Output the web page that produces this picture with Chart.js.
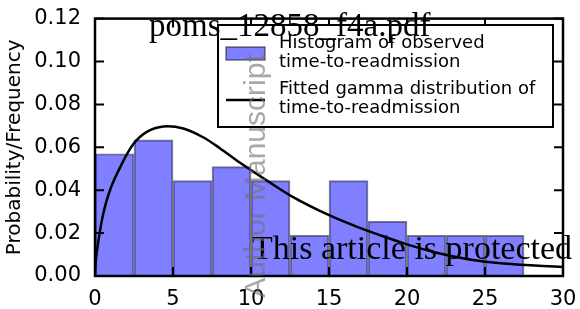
<!DOCTYPE html>
<html>
<head>
<meta charset="utf-8">
<script src="https://cdn.jsdelivr.net/npm/chart.js@4"></script>
<style>
  html, body { margin: 0; padding: 0; background: #fff; }
</style>
</head>
<body>
<canvas id="chart" width="580" height="309"></canvas>
<script>
// histogram bins (bin width 2.5)
const binCenters = [1.25, 3.75, 6.25, 8.75, 11.25, 13.75, 16.25, 18.75, 21.25, 23.75, 26.25];
const binHeights = [0.057, 0.0635, 0.0445, 0.051, 0.0445, 0.019, 0.0445, 0.0255, 0.019, 0.019, 0.019];

// fitted gamma curve
const curveX = [0, 0.05, 0.21, 0.53, 0.96, 1.6, 2.46, 3.32, 4.38, 5.66, 6.9, 8.0, 9.3, 11.0, 12.7, 14.9, 16.6, 18.2, 19.8, 21.9, 24.0, 26.2, 30];
const curveY = [0, 0.007, 0.016, 0.029, 0.040, 0.0505, 0.0615, 0.0672, 0.0697, 0.0688, 0.0648, 0.0596, 0.0528, 0.0446, 0.0368, 0.0287, 0.0235, 0.0192, 0.0152, 0.0108, 0.0077, 0.0058, 0.0042];

const xTicks = [0, 5, 10, 15, 20, 25, 30];
const yTicks = [0, 0.02, 0.04, 0.06, 0.08, 0.10, 0.12];

const histLabel = ['Histogram of observed', 'time-to-readmission'];
const curveLabel = ['Fitted gamma distribution of', 'time-to-readmission'];

const histData = binCenters.map((x, i) => ({ x: x, y: binHeights[i] }));
const curveData = curveX.map((x, i) => ({ x: x, y: curveY[i] }));

// frame, inner ticks, legend and the page watermarks
const decorations = {
    id: 'decorations',
    afterDraw(chart) {
        const c = chart.ctx;
        const a = chart.chartArea;
        const xs = chart.scales.x;
        const ys = chart.scales.y;
        c.save();

        // inner tick marks on all four sides
        c.strokeStyle = '#000';
        c.lineWidth = 2;
        c.beginPath();
        yTicks.forEach(v => {
            const py = ys.getPixelForValue(v);
            c.moveTo(a.left, py); c.lineTo(a.left + 9, py);
            c.moveTo(a.right, py); c.lineTo(a.right - 9, py);
        });
        xTicks.forEach(v => {
            const px = xs.getPixelForValue(v);
            c.moveTo(px, a.bottom); c.lineTo(px, a.bottom - 9);
            c.moveTo(px, a.top); c.lineTo(px, a.top + 9);
        });
        c.stroke();

        // axes box
        c.lineWidth = 2.5;
        c.strokeRect(a.left, a.top, a.right - a.left, a.bottom - a.top);

        // legend
        const lx = 218, ly = 25, lw = 335, lh = 102;
        c.fillStyle = '#fff';
        c.fillRect(lx, ly, lw, lh);
        c.lineWidth = 2;
        c.strokeRect(lx, ly, lw, lh);

        c.fillStyle = 'rgba(0,0,255,0.5)';
        c.fillRect(226, 47, 39, 13);
        c.strokeStyle = 'rgba(0,0,0,0.5)';
        c.lineWidth = 1.5;
        c.strokeRect(226, 47, 39, 13);

        c.strokeStyle = '#000';
        c.lineWidth = 2.5;
        c.beginPath();
        c.moveTo(226, 100); c.lineTo(265, 100);
        c.stroke();

        c.fillStyle = '#000';
        c.font = '18px "DejaVu Sans"';
        c.textAlign = 'left';
        c.textBaseline = 'alphabetic';
        c.fillText(histLabel[0], 279, 48);
        c.fillText(histLabel[1], 279, 67);
        c.fillText(curveLabel[0], 279, 94);
        c.fillText(curveLabel[1], 279, 113);

        // watermarks
        c.font = '33px "Liberation Serif"';
        c.fillStyle = '#000';
        c.fillText('poms_12858_f4a.pdf', 149, 36);
        c.font = '34px "Liberation Serif"';
        c.fillText('This article is protected', 252, 259);

        c.translate(265, 176);
        c.rotate(-Math.PI / 2);
        c.textAlign = 'center';
        c.font = '30px "Liberation Sans"';
        c.fillStyle = 'rgba(110,110,110,0.6)';
        c.fillText('Author Manuscript', 0, 0);

        c.restore();
    }
};

new Chart(document.getElementById('chart'), {
    type: 'bar',
    data: {
        datasets: [
            {
                type: 'line',
                label: curveLabel,
                data: curveData,
                borderColor: '#000',
                borderWidth: 2.5,
                pointRadius: 0,
                fill: false,
                tension: 0.35,
                order: 0
            },
            {
                type: 'bar',
                label: histLabel,
                data: histData,
                backgroundColor: 'rgba(0,0,255,0.5)',
                borderColor: 'rgba(0,0,0,0.5)',
                borderWidth: 1.3,
                barPercentage: 1,
                categoryPercentage: 1,
                order: 1
            }
        ]
    },
    options: {
        responsive: false,
        animation: false,
        devicePixelRatio: 1,
        layout: { padding: { left: 0, right: 17, top: 15, bottom: 0 } },
        plugins: {
            legend: { display: false },
            tooltip: { enabled: false }
        },
        scales: {
            x: {
                type: 'linear',
                min: 0,
                max: 30,
                offset: false,
                grid: { display: false },
                border: { display: false },
                afterFit: s => { s.height = 33; },
                afterBuildTicks: s => { s.ticks = xTicks.map(v => ({ value: v })); },
                ticks: {
                    color: '#000',
                    padding: 3,
                    maxRotation: 0,
                    font: { family: 'DejaVu Sans', size: 21 }
                }
            },
            y: {
                min: 0,
                max: 0.12,
                grid: { display: false },
                border: { display: false },
                afterFit: s => { s.width = 95; },
                afterBuildTicks: s => { s.ticks = yTicks.map(v => ({ value: v })); },
                ticks: {
                    color: '#000',
                    padding: 6,
                    font: { family: 'DejaVu Sans', size: 21 },
                    callback: v => v.toFixed(2)
                },
                title: {
                    display: true,
                    text: 'Probability/Frequency',
                    color: '#000',
                    padding: { top: 3, bottom: 0 },
                    font: { family: 'DejaVu Sans', size: 20 }
                }
            }
        }
    },
    plugins: [decorations]
});
</script>
</body>
</html>
